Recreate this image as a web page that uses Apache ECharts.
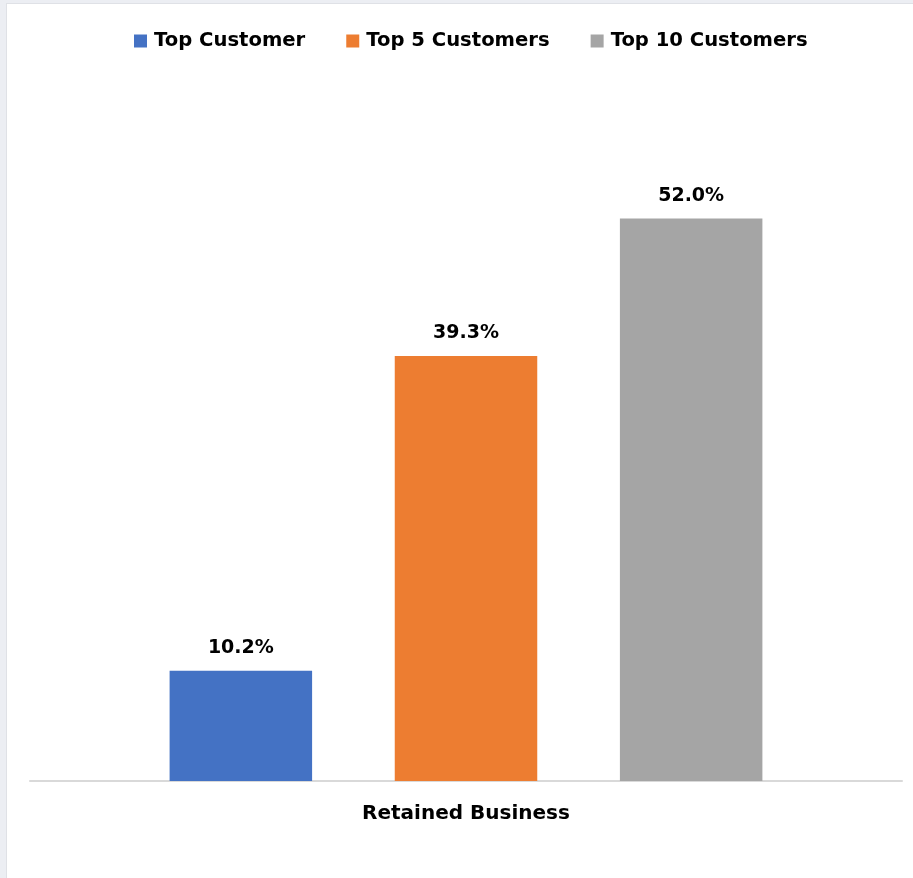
<!DOCTYPE html>
<html>
<head>
<meta charset="utf-8">
<script src="https://cdn.jsdelivr.net/npm/echarts@6/dist/echarts.min.js"></script>
<style>
  html, body { margin: 0; padding: 0; background: #eceef3; }
  #wrap { position: absolute; left: 0; top: 0; width: 913px; height: 878px; background: #eceef3; }
  #chart { position: absolute; left: 6px; top: 3px; width: 907px; height: 875px; background: #ffffff; border-left: 1px solid #dfe1e6; border-top: 1px solid #dfe1e6; }
</style>
</head>
<body>
<div id="wrap"><div id="chart"></div></div>
<script>
const categories = ['Retained Business'];
const seriesNames = ['Top Customer', 'Top 5 Customers', 'Top 10 Customers'];
const topCustomer = [10.2];
const top5Customers = [39.3];
const top10Customers = [52.0];
const colors = ['#4472c4', '#ed7d31', '#a5a5a5'];

const font = 'DejaVu Sans';
const chart = echarts.init(document.getElementById('chart'));
const values = [topCustomer, top5Customers, top10Customers];
chart.setOption({
  animation: false,
  legend: {
    top: 22,
    left: 122,
    itemWidth: 13,
    itemHeight: 13,
    itemGap: 41,
    icon: 'rect',
    textStyle: { fontFamily: font, fontWeight: 'bold', fontSize: 19.6, color: '#000', padding: [0, 0, 0, 2] },
    data: seriesNames
  },
  grid: { left: 23, right: 12, top: 128, bottom: 98 },
  xAxis: {
    type: 'category',
    data: categories,
    axisLine: { lineStyle: { color: '#d9d9d9', width: 2 } },
    axisTick: { show: false },
    axisLabel: { margin: 23, fontFamily: font, fontWeight: 'bold', fontSize: 20, color: '#000' }
  },
  yAxis: { type: 'value', min: 0, max: 60, show: false, splitLine: { show: false } },
  series: seriesNames.map((n, i) => ({
    name: n,
    type: 'bar',
    data: values[i],
    barWidth: 142.5,
    barGap: '58%',
    itemStyle: { color: colors[i] },
    label: {
      show: true,
      position: 'top',
      distance: 13,
      formatter: p => p.value.toFixed(1) + '%',
      fontFamily: font,
      fontWeight: 'bold',
      fontSize: 19,
      color: '#000'
    }
  }))
});
</script>
</body>
</html>
